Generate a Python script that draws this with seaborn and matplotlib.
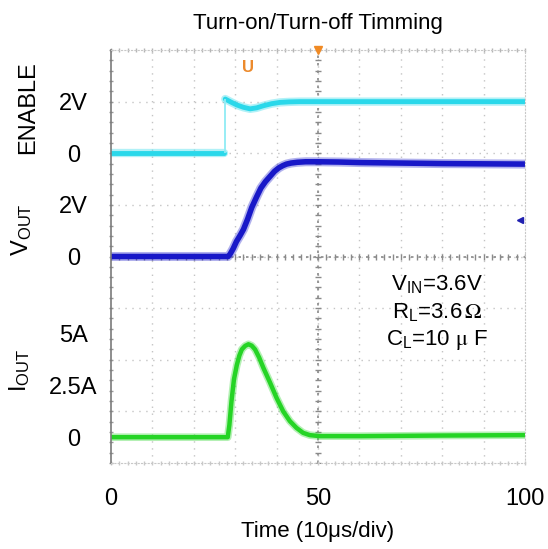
import matplotlib
matplotlib.use('Agg')
import matplotlib.pyplot as plt
import numpy as np
import seaborn as sns

sns.set_style('white')
plt.rcParams['font.family'] = ['Liberation Sans', 'DejaVu Sans']
plt.rcParams['mathtext.fontset'] = 'stix'
plt.rcParams['text.color'] = 'black'
plt.rcParams['xtick.color'] = 'black'
plt.rcParams['ytick.color'] = 'black'
plt.rcParams['axes.labelcolor'] = 'black'

# scope traces (time in µs*10 -> 0..100 = 10 div)
enable_t = [0, 27.4, 27.6, 29.0, 30.4, 32.0, 33.6, 35.2, 36.8, 38.8, 40.8, 43.0, 45.6, 60, 80, 100]
enable_v = [0, 0, 2.10, 1.98, 1.87, 1.78, 1.72, 1.76, 1.84, 1.92, 1.97, 1.99, 2.0, 2.0, 2.0, 2.0]

vout_t = [0, 28.3, 28.8, 29.5, 30.3, 31.2, 32.0, 33.0, 34.0, 35.2, 36.2, 37.3, 38.4, 39.5,
          40.5, 41.5, 42.4, 43.5, 45, 47, 50, 55, 60, 70, 80, 90, 100]
vout_v = [0, 0, 0.1, 0.3, 0.58, 0.82, 1.05, 1.45, 1.9, 2.32, 2.65, 2.9, 3.1, 3.3,
          3.43, 3.52, 3.58, 3.62, 3.65, 3.67, 3.67, 3.66, 3.64, 3.62, 3.6, 3.59, 3.58]

iout_t = [0, 28.2, 28.6, 29.1, 29.7, 30.4, 31.0, 31.6, 32.4, 33.2, 34.0, 34.8, 35.8, 36.8,
          38.4, 40.0, 41.6, 43.2, 44.8, 46.4, 48.0, 50.5, 60, 80, 100]
iout_a = [0, 0, 0.6, 1.74, 2.8, 3.5, 3.95, 4.25, 4.42, 4.5, 4.43, 4.25, 3.85, 3.36,
          2.65, 1.9, 1.25, 0.78, 0.45, 0.21, 0.1, 0.05, 0.05, 0.08, 0.1]

# channel placement on the 8-division screen: (offset in div, units per div)
enable_pos = (6.0, 2.0)
vout_pos = (4.0, 2.0)
iout_pos = (0.5, 2.5)

enable_ticks = [0, 2]
enable_labels = ['0', '2V']
vout_ticks = [0, 2]
vout_labels = ['0', '2V']
iout_ticks = [0, 2.5, 5]
iout_labels = ['0', '2.5A', '5A']

x_ticks = [0, 50, 100]
trigger_t = 50
trigger_mark = (33.1, 7.67)
ch2_mark = (98.8, 4.71)

params = [r'$\mathregular{V_{IN}}$=3.6V', r'$\mathregular{R_L}$=3.6$\,\mathrm{\Omega}$',
          r'$\mathregular{C_L}$=10 $\mathrm{\mu}$ F']


def to_div(vals, pos):
    off, per = pos
    return [off + v / per for v in vals]


fig = plt.figure(figsize=(5.48, 5.49), dpi=100)
ax = fig.add_axes([111 / 548, 1 - 463 / 549, 414 / 548, 413 / 549])
ax.set_xlim(0, 100)
ax.set_ylim(0, 8)

# graticule
for gx in np.arange(10, 100, 10):
    ax.axvline(gx, color='#c4c4c4', lw=1, ls=(0, (1, 4)), zorder=0)
for gy in np.arange(1, 8, 1):
    ax.axhline(gy, color='#c4c4c4', lw=1, ls=(0, (1, 4)), zorder=0)
ax.axvline(50, color='#8a8a8a', lw=1.2, ls=(0, (1.5, 3)), zorder=0)
ax.axhline(4, color='#8a8a8a', lw=1.2, ls=(0, (1.5, 3)), zorder=0)
ax.plot(np.arange(0, 100.1, 2), np.full(51, 4.0), ls='none', marker='|', ms=4,
        color='#8a8a8a', mew=1, zorder=0)
ax.plot(np.full(41, 50.0), np.arange(0, 8.01, 0.2), ls='none', marker='_', ms=4,
        color='#8a8a8a', mew=1, zorder=0)
ax.plot(np.arange(0, 100.1, 2), np.full(51, 8.0), ls='none', marker='|', ms=3,
        color='#b4b4b4', mew=1, clip_on=False, zorder=0)
ax.plot(np.arange(0, 100.1, 2), np.full(51, 0.0), ls='none', marker='|', ms=3,
        color='#c8c8c8', mew=1, clip_on=False, zorder=0)
ax.plot(np.full(41, 0.0), np.arange(0, 8.01, 0.2), ls='none', marker='_', ms=3,
        color='#9a9a9a', mew=1, clip_on=False, zorder=0)

for side in ['top', 'right', 'bottom']:
    ax.spines[side].set_color('#c8c8c8')
    ax.spines[side].set_linestyle((0, (1, 2)))
ax.spines['left'].set_color('#7a7a7a')
ax.spines['left'].set_linewidth(1.2)

# traces
en_div = to_div(enable_v, enable_pos)
low = [i for i, v in enumerate(enable_v) if v == 0]
high = [i for i, v in enumerate(enable_v) if v != 0]
for idx in (low, high):
    xs = [enable_t[i] for i in idx]
    ys = [en_div[i] for i in idx]
    sns.lineplot(x=xs, y=ys, ax=ax, color='#3ddcec', lw=6, alpha=0.4)
    sns.lineplot(x=xs, y=ys, ax=ax, color='#2ad8ea', lw=3.5)
ax.vlines(enable_t[high[0]], en_div[low[-1]], en_div[high[0]], color='#8fecf4', lw=1.3)

vo_div = to_div(vout_v, vout_pos)
sns.lineplot(x=vout_t, y=vo_div, ax=ax, color='#2222cc', lw=6.5, alpha=0.35)
sns.lineplot(x=vout_t, y=vo_div, ax=ax, color='#1818c8', lw=4)

io_div = to_div(iout_a, iout_pos)
sns.lineplot(x=iout_t, y=io_div, ax=ax, color='#2ad42a', lw=5.5, alpha=0.35)
sns.lineplot(x=iout_t, y=io_div, ax=ax, color='#25d425', lw=3.2)

# scope markers
ax.plot([trigger_t], [8.0], marker='v', ms=6, color='#f08a24', clip_on=False, zorder=5)
ax.text(trigger_mark[0], trigger_mark[1], 'U', color='#ec8a2c', fontsize=12,
        fontweight='bold', ha='center', va='center')
ax.plot([ch2_mark[0]], [ch2_mark[1]], marker='<', ms=5, color='#2020b0')

# y labels per channel
ypos = (to_div(enable_ticks, enable_pos) + to_div(vout_ticks, vout_pos)
        + to_div(iout_ticks, iout_pos))
ylabs = enable_labels + vout_labels + iout_labels
ax.set_yticks(ypos, ylabs)
ax.tick_params(axis='y', length=0, pad=27, labelsize=17)
for lab in ax.get_yticklabels():
    lab.set_horizontalalignment('center')

ax.set_xticks(x_ticks, [str(v) for v in x_ticks])
ax.tick_params(axis='x', length=0, pad=18, labelsize=17)
ax.set_xlabel('Time (10μs/div)', fontsize=16, labelpad=8)
ax.set_title('Turn-on/Turn-off Timming', fontsize=16, pad=15)

fig.text(28 / 548, 1 - 108 / 549, 'ENABLE', rotation=90, fontsize=17, ha='center', va='center')
fig.text(22 / 548, 1 - 230 / 549, r'V$_{\mathregular{OUT}}$', rotation=90, fontsize=17,
         ha='center', va='center')
fig.text(20 / 548, 1 - 370 / 549, r'I$_{\mathregular{OUT}}$', rotation=90, fontsize=17,
         ha='center', va='center')

for i, s in enumerate(params):
    ax.text(78.7, 3.45 - i * 0.535, s, fontsize=16, ha='center', va='center')

fig.savefig('out.png', dpi=100)
plt.close(fig)
